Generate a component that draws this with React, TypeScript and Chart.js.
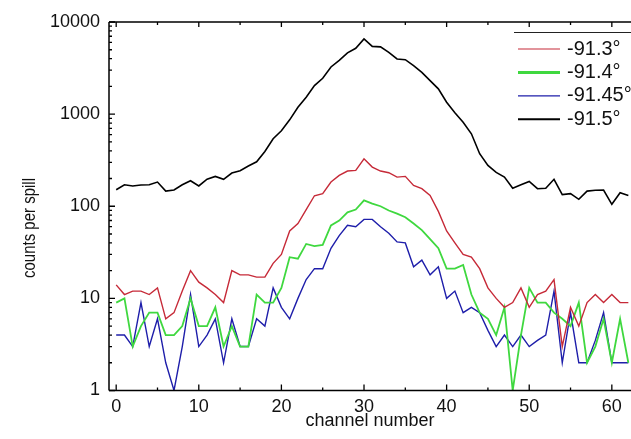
import React, { useEffect, useRef } from 'react';
import { Chart, registerables } from 'chart.js';

Chart.register(...registerables);

// channel numbers (x)
const CHANNELS = [
  0, 1, 2, 3, 4, 5, 6, 7, 8, 9, 10, 11, 12, 13, 14, 15, 16, 17, 18, 19, 20,
  21, 22, 23, 24, 25, 26, 27, 28, 29, 30, 31, 32, 33, 34, 35, 36, 37, 38, 39, 40,
  41, 42, 43, 44, 45, 46, 47, 48, 49, 50, 51, 52, 53, 54, 55, 56, 57, 58, 59, 60,
  61, 62,
];

// counts per spill, -91.3°
const RED = [
  14, 11, 12, 12, 11, 13, 6, 7, 12, 20, 15, 13, 11, 9, 20, 18, 18, 17, 17, 24, 30,
  54, 65, 92, 130, 137, 183, 216, 241, 245, 328, 266, 241, 231, 207, 211, 168, 155, 131, 88, 54,
  40, 30, 28, 21, 13, 10, 8, 9, 13, 8, 11, 12, 16, 3, 8, 5, 9, 11, 9, 11,
  9, 9,
];

// counts per spill, -91.4°
const GREEN = [
  9, 10, 3, 5, 7, 7, 4, 4, 5, 10, 5, 5, 8, 3, 5, 3, 3, 11, 9, 9, 13,
  28, 27, 39, 37, 38, 62, 70, 86, 92, 116, 107, 100, 90, 83, 76, 65, 55, 44, 35, 21,
  21, 23, 11, 7, 6, 4, 8, 1, 4, 13, 9, 9, 7, 6, 5, 9, 2, 3, 6, 2,
  6, 2,
];

// counts per spill, -91.45°
const BLUE = [
  4, 4, 3, 9, 3, 6, 2, 1, 3, 11, 3, 4, 6, 2, 6, 3, 3, 6, 5, 13, 8,
  6, 10, 16, 21, 21, 35, 48, 62, 60, 72, 72, 60, 51, 41, 40, 22, 26, 18, 22, 10,
  12, 7, 8, 7, 4.5, 3, 4, 3, 4, 3, 3.5, 4, 12, 2, 7, 2, 2, 3.5, 7, 2,
  2, 2,
];

// counts per spill, -91.5°
const BLACK = [
  151, 171, 166, 170, 171, 183, 146, 150, 171, 189, 166, 197, 211, 196, 229, 243, 273, 304, 393, 540, 659,
  867, 1188, 1524, 2040, 2450, 3250, 3840, 4620, 5180, 6550, 5440, 5370, 4690, 3970, 3900, 3360, 2840, 2310, 1880, 1346,
  1033, 816, 612, 372, 277, 233, 207, 157, 171, 186, 155, 157, 196, 134, 137, 119, 146, 149, 150, 105,
  140, 131,
];

const SERIES_LABELS = ['-91.3°', '-91.4°', '-91.45°', '-91.5°'];
const X_TICKS = [0, 10, 20, 30, 40, 50, 60];
const X_MINOR = [5, 15, 25, 35, 45, 55];
const Y_TICKS = [1, 10, 100, 1000, 10000];
const X_MIN = -0.87;
const X_MAX = 62.32;

const FONT = '"Liberation Sans", Arial, sans-serif';
const COLORS = ['#c62a38', '#3fd83f', '#1e1eaa', '#000000'];
const WIDTHS = [1.4, 1.8, 1.4, 1.6];
const LEGEND_WIDTHS = [1.2, 3, 1.2, 2];

const framePlugin = {
  id: 'frame',
  afterDraw(chart: any) {
    const { ctx, chartArea } = chart;
    const { left, right, top, bottom } = chartArea;
    const xs = chart.scales.x;
    const ys = chart.scales.y;
    ctx.save();
    ctx.strokeStyle = '#000';
    ctx.lineWidth = 1.5;
    ctx.beginPath();
    ctx.moveTo(left, top);
    ctx.lineTo(left, bottom);
    ctx.moveTo(left, bottom);
    ctx.lineTo(right, bottom);
    ctx.moveTo(left, top);
    ctx.lineTo(right, top);
    ctx.stroke();

    ctx.lineWidth = 1.3;
    ctx.beginPath();
    X_TICKS.forEach((v) => {
      const px = xs.getPixelForValue(v);
      ctx.moveTo(px, bottom);
      ctx.lineTo(px, bottom - 6);
      ctx.moveTo(px, top);
      ctx.lineTo(px, top + 5);
    });
    X_MINOR.forEach((v) => {
      const px = xs.getPixelForValue(v);
      ctx.moveTo(px, bottom);
      ctx.lineTo(px, bottom - 3);
      ctx.moveTo(px, top);
      ctx.lineTo(px, top + 3);
    });
    Y_TICKS.forEach((d, i) => {
      const py = ys.getPixelForValue(d);
      ctx.moveTo(left, py);
      ctx.lineTo(left + 6, py);
      if (i < Y_TICKS.length - 1) {
        for (let m = 2; m <= 9; m++) {
          const pm = ys.getPixelForValue(d * m);
          ctx.moveTo(left, pm);
          ctx.lineTo(left + 3, pm);
        }
      }
    });
    ctx.stroke();

    // y axis title
    ctx.save();
    ctx.translate(30, 228);
    ctx.rotate(-Math.PI / 2);
    ctx.scale(1, 1.25);
    ctx.fillStyle = '#111';
    ctx.font = `15px ${FONT}`;
    ctx.textAlign = 'center';
    ctx.textBaseline = 'middle';
    ctx.fillText('counts per spill', 0, 0);
    ctx.restore();

    // legend
    ctx.strokeStyle = '#222';
    ctx.lineWidth = 1;
    ctx.beginPath();
    ctx.moveTo(514, 32.5);
    ctx.lineTo(right, 32.5);
    ctx.stroke();
    ctx.font = `20px ${FONT}`;
    ctx.textAlign = 'left';
    ctx.textBaseline = 'middle';
    ctx.fillStyle = '#111';
    SERIES_LABELS.forEach((lab, i) => {
      const y = 49 + i * 23.4;
      ctx.strokeStyle = COLORS[i];
      ctx.lineWidth = LEGEND_WIDTHS[i];
      ctx.beginPath();
      ctx.moveTo(518, y);
      ctx.lineTo(560, y);
      ctx.stroke();
      ctx.fillText(lab, 567, y);
    });
    ctx.restore();
  },
};

export default function App() {
  const ref = useRef<HTMLCanvasElement>(null);
  useEffect(() => {
    const canvas = ref.current!;
    const series = [RED, GREEN, BLUE, BLACK];
    const chart = new Chart(canvas, {
      type: 'line',
      data: {
        datasets: series.map((vals, i) => ({
          label: SERIES_LABELS[i],
          data: CHANNELS.map((c, j) => ({ x: c, y: vals[j] })),
          borderColor: COLORS[i],
          backgroundColor: COLORS[i],
          borderWidth: WIDTHS[i],
          pointRadius: 0,
          tension: 0,
          fill: false,
        })),
      },
      options: {
        animation: false,
        responsive: false,
        devicePixelRatio: 1,
        layout: { padding: { top: 22, left: 0, right: 0, bottom: 0 } },
        plugins: { legend: { display: false }, tooltip: { enabled: false } },
        scales: {
          x: {
            type: 'linear',
            min: X_MIN,
            max: X_MAX,
            afterFit: (s: any) => {
              s.height = 48.5;
            },
            afterBuildTicks: (s: any) => {
              s.ticks = X_TICKS.map((v) => ({ value: v }));
            },
            grid: { display: false, drawTicks: false },
            border: { display: false },
            ticks: {
              padding: 6,
              autoSkip: false,
              maxRotation: 0,
              color: '#111',
              font: { family: FONT, size: 18 },
              callback: (v: any) => String(v),
            },
            title: {
              display: true,
              text: 'channel number',
              color: '#111',
              font: { family: FONT, size: 18 },
              padding: { top: 0, bottom: 7 },
            },
          },
          y: {
            type: 'logarithmic',
            min: 1,
            max: 10000,
            afterFit: (s: any) => {
              s.width = 109;
            },
            afterBuildTicks: (s: any) => {
              s.ticks = Y_TICKS.map((v) => ({ value: v }));
            },
            grid: { display: false, drawTicks: false },
            border: { display: false },
            ticks: {
              padding: 9,
              autoSkip: false,
              color: '#111',
              font: { family: FONT, size: 18 },
              callback: (v: any) => String(v),
            },
          },
        },
      },
      plugins: [framePlugin],
    } as any);
    return () => chart.destroy();
  }, []);
  return (
    <div style={{ position: 'fixed', left: 0, top: 0, width: 631, height: 439, background: '#fff' }}>
      <canvas ref={ref} width={631} height={439} style={{ display: 'block' }} />
    </div>
  );
}
